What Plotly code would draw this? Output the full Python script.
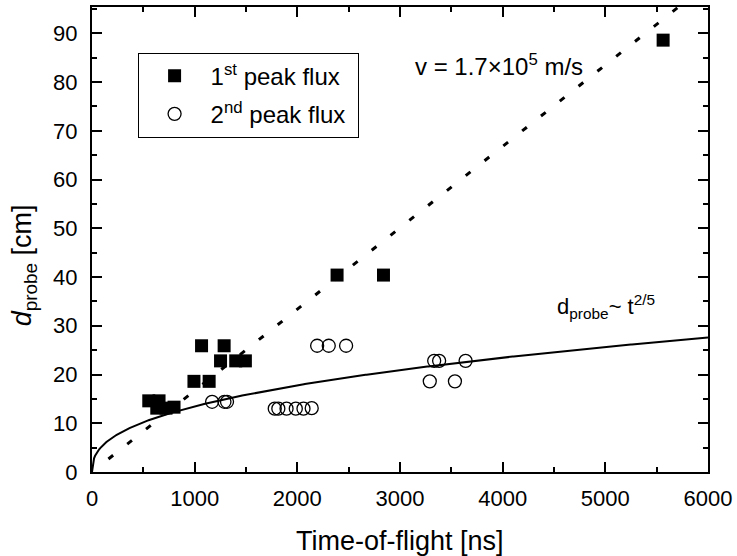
import numpy as np
import plotly.graph_objects as go

# ---- data ----
t_first = [553, 653, 631, 721, 799, 993, 1141, 1067, 1287, 1252, 1400, 1494, 2387, 2839, 5563]
d_first = [14.6, 14.6, 13.1, 13.1, 13.3, 18.6, 18.6, 25.9, 25.9, 22.8, 22.8, 22.8, 40.4, 40.4, 88.6]

t_second = [1170, 1290, 1315, 1780, 1815, 1895, 1985, 2060, 2140,
            2193, 2306, 2475, 3290, 3535, 3333, 3381, 3639]
d_second = [14.4, 14.4, 14.4, 13.0, 13.0, 13.0, 13.0, 13.0, 13.1,
            25.9, 25.9, 25.9, 18.6, 18.6, 22.8, 22.8, 22.8]

# fit models
v_slope = 0.0167          # cm per ns  (v = 1.7e5 m/s)
t_lin = [160, 6000]
a_pow = 0.85              # d = a * t^(2/5)
p_pow = 0.4
t_pow = np.linspace(0, 6000, 600)

FONT = "Liberation Sans, Arial, sans-serif"

fig = go.Figure()
fig.add_trace(go.Scatter(
    x=t_lin, y=[v_slope * t for t in t_lin], mode="lines",
    line=dict(color="black", width=3, dash="6px,18px"), showlegend=False, hoverinfo="skip"))
fig.add_trace(go.Scatter(
    x=t_pow, y=a_pow * t_pow ** p_pow, mode="lines",
    line=dict(color="black", width=2), showlegend=False, hoverinfo="skip"))
fig.add_trace(go.Scatter(
    x=t_first, y=d_first, mode="markers", name="1<sup>st</sup> peak flux&nbsp;", legendgroup="a",
    marker=dict(symbol="square", size=13, color="black", line=dict(width=0))))
fig.add_trace(go.Scatter(
    x=t_second, y=d_second, mode="markers", name="2<sup>nd</sup> peak flux&nbsp;", legendgroup="b",
    marker=dict(symbol="circle-open", size=13, color="black", line=dict(width=1.3))))

axis_common = dict(
    showline=True, linecolor="black", linewidth=2, mirror="allticks",
    ticks="inside", ticklen=10, tickwidth=1.5, tickcolor="black",
    showgrid=False, zeroline=False,
    tickfont=dict(family=FONT, size=22, color="black"),
)

fig.update_xaxes(range=[0, 6000], dtick=1000, tick0=0,
                 minor=dict(ticks="inside", ticklen=5, dtick=500, tickwidth=1.5, tickcolor="black"),
                 ticklabelstandoff=6, **axis_common)
fig.update_yaxes(range=[0, 95.4], dtick=10, tick0=0,
                 minor=dict(ticks="inside", ticklen=5, dtick=5, tickwidth=1.5, tickcolor="black"),
                 ticklabelstandoff=8, **axis_common)

fig.add_annotation(xref="paper", yref="paper", x=0.5, y=-0.149, yanchor="middle",
                   text="Time-of-flight [ns]", showarrow=False,
                   font=dict(family=FONT, size=27, color="black"))
fig.add_annotation(xref="paper", yref="paper", x=-0.11, y=0.445, xanchor="center", yanchor="middle",
                   textangle=-90, text="<i>d</i><sub>probe</sub> [cm]", showarrow=False,
                   font=dict(family=FONT, size=27, color="black"))
fig.add_annotation(xref="paper", yref="paper", x=0.521, y=0.875, xanchor="left", yanchor="middle",
                   text="v = 1.7×10<sup>5</sup> m/s", showarrow=False,
                   font=dict(family=FONT, size=24, color="black"))
fig.add_annotation(xref="paper", yref="paper", x=0.752, y=0.355, xanchor="left", yanchor="middle",
                   text="d<sub>probe</sub>~ t<sup>2/5</sup>", showarrow=False,
                   font=dict(family=FONT, size=22, color="black"))

fig.update_layout(
    width=737, height=556,
    margin=dict(l=92, r=27, t=5, b=84),
    paper_bgcolor="white", plot_bgcolor="white",
    font=dict(family=FONT, color="black"),
    legend=dict(x=0.074, y=0.902, xanchor="left", yanchor="top",
                bordercolor="black", borderwidth=1, bgcolor="white",
                font=dict(family=FONT, size=24, color="black"),
                tracegroupgap=4, itemwidth=62),
)

fig.write_html("out.html")
